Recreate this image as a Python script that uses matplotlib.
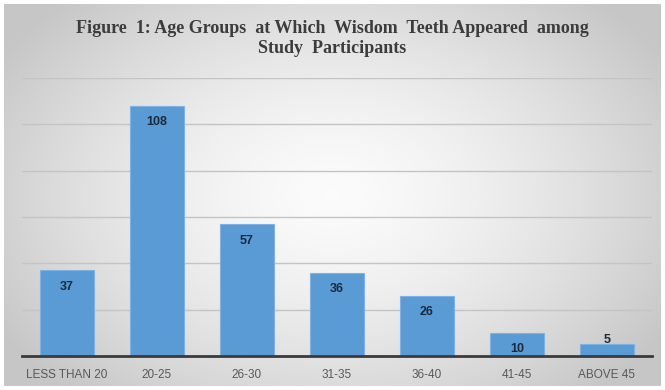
import numpy as np
import matplotlib
matplotlib.use("Agg")
import matplotlib.pyplot as plt

categories = ["LESS THAN 20", "20-25", "26-30", "31-35", "36-40", "41-45", "ABOVE 45"]
values = [37, 108, 57, 36, 26, 10, 5]
title = "Figure  1: Age Groups  at Which  Wisdom  Teeth Appeared  among\nStudy  Participants"

W, H = 665, 390
fig = plt.figure(figsize=(W / 100, H / 100), dpi=100)
fig.patch.set_facecolor("white")

# radial gradient background
bg = fig.add_axes([4 / W, 4 / H, 657 / W, 382 / H])
yy, xx = np.mgrid[-1:1:200j, -1:1:340j]
r = np.sqrt(xx ** 2 + (yy * 0.85) ** 2)
g = np.clip(0.985 - 0.16 * r ** 1.5, 0.78, 1.0)
img = np.dstack([g, g, g])
bg.imshow(img, aspect="auto", extent=[0, 1, 0, 1], interpolation="bilinear")
bg.set_axis_off()

ax = fig.add_axes([22 / W, (H - 356) / H, 630 / W, (356 - 78) / H])
ax.set_facecolor("none")
x = np.arange(len(categories))
ax.bar(x, values, width=0.59, color="#5b9bd5", edgecolor="#7fb2e3", linewidth=0.8, zorder=2)
ax.set_xlim(-0.5, len(categories) - 0.5)
ax.set_ylim(0, 120)
ax.set_yticks(np.arange(20, 121, 20))
ax.yaxis.grid(True, color="#c4c4c4", linewidth=1.0, zorder=0)
ax.tick_params(axis="y", left=False, labelleft=False)
ax.set_xticks(x)
ax.set_xticklabels(categories, fontsize=8.5, color="#595959", family="Liberation Sans")
ax.tick_params(axis="x", length=0, pad=9.5)
for s in ["top", "right", "left"]:
    ax.spines[s].set_visible(False)
ax.spines["bottom"].set_color("#3a3a3a")
ax.spines["bottom"].set_linewidth(2.0)

for xi, v in zip(x, values):
    off = -12 if v >= 10 else 3.5
    ax.annotate(str(v), (xi, v), xytext=(0, off), textcoords="offset points",
                ha="center", va="center", fontsize=9, fontweight="bold",
                color="#1b2a3a", family="Liberation Sans")

fig.text(0.5, (H - 38.5) / H, title, ha="center", va="center", fontsize=13,
         fontweight="bold", color="#3c3c3c", family="Liberation Serif", linespacing=1.2)

fig.savefig("out.png", dpi=100)
